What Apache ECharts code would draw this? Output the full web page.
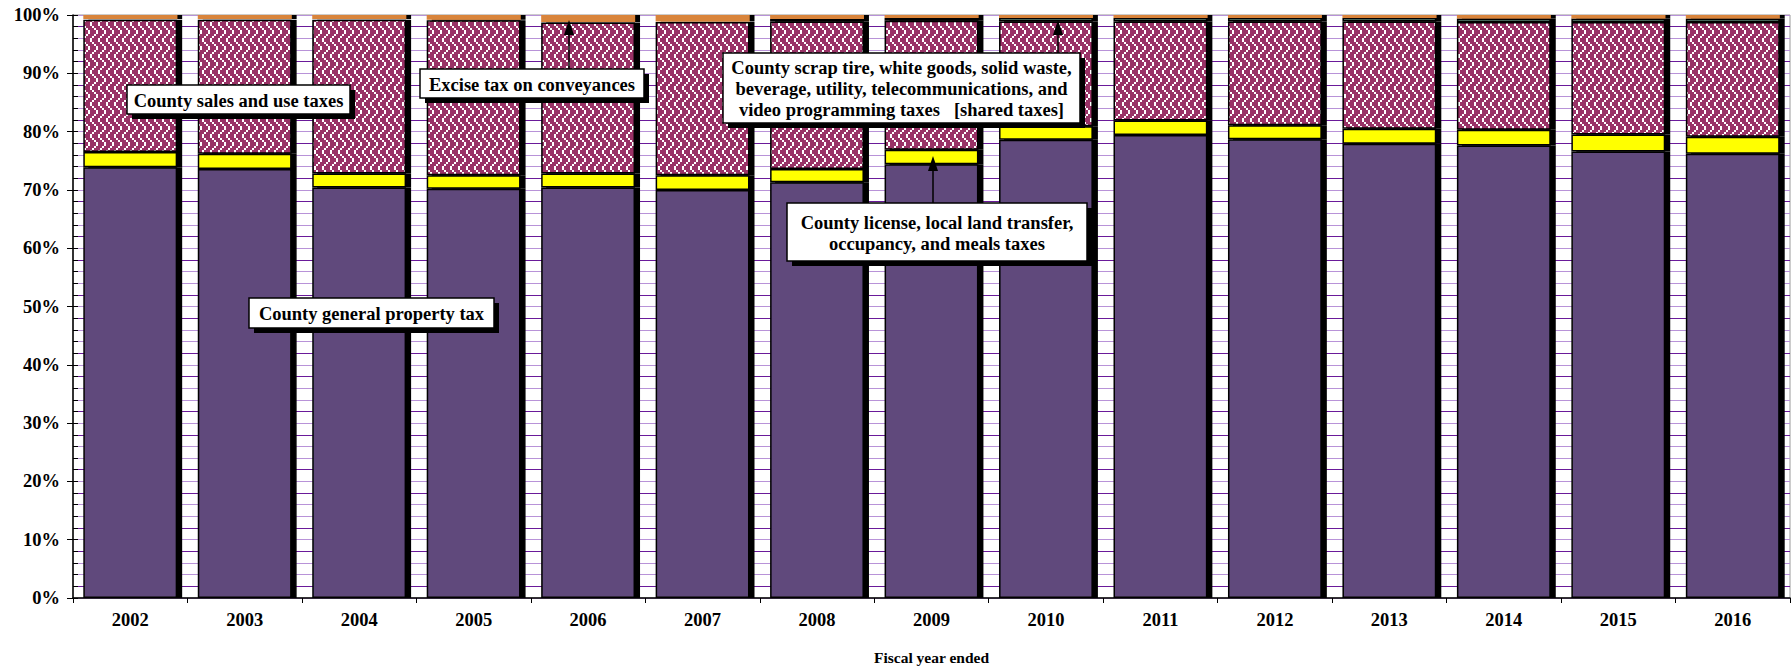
<!DOCTYPE html>
<html>
<head>
<meta charset="utf-8">
<script src="https://cdn.jsdelivr.net/npm/echarts@6/dist/echarts.min.js"></script>
<style>
html,body{margin:0;padding:0;background:#fff;}
#chart{width:1791px;height:670px;}
</style>
</head>
<body>
<div id="chart"></div>
<script>
const years = ['2002','2003','2004','2005','2006','2007','2008','2009','2010','2011','2012','2013','2014','2015','2016'];
const propertyTax = [73.9, 73.6, 70.4, 70.2, 70.4, 70.0, 71.3, 74.4, 78.6, 79.4, 78.7, 77.9, 77.6, 76.6, 76.2];
const licenseTaxes = [2.6, 2.6, 2.4, 2.3, 2.4, 2.5, 2.3, 2.5, 2.3, 2.5, 2.4, 2.6, 2.7, 2.9, 2.9];
const salesUseTaxes = [22.7, 23.0, 26.4, 26.6, 25.9, 26.3, 25.3, 22.1, 18.0, 17.0, 17.8, 18.4, 18.5, 19.3, 19.7];
const sharedTaxes = [0.1, 0.1, 0.1, 0.1, 0.1, 0.1, 0.4, 0.5, 0.6, 0.6, 0.6, 0.6, 0.6, 0.6, 0.6];
const exciseTax = [0.7, 0.7, 0.7, 0.8, 1.2, 1.1, 0.7, 0.5, 0.5, 0.5, 0.5, 0.5, 0.6, 0.6, 0.6];

const FONT = '"Liberation Serif", "Times New Roman", serif';

// zigzag hatch pattern (maroon with white zigzag dots)
function makePattern() {
  const cell = 2, n = 8;
  const c = document.createElement('canvas');
  c.width = n * cell; c.height = n * cell;
  const ctx = c.getContext('2d');
  ctx.fillStyle = '#993366';
  ctx.fillRect(0, 0, c.width, c.height);
  ctx.fillStyle = '#ffffff';
  for (let y = 0; y < n; y++) {
    const off = y < 4 ? y : 7 - y;
    for (let x = 0; x < n; x++) {
      const k = (x + off) % 4;
      if (k === 0 || (k === 2 && (x + y) % 4 === 0)) ctx.fillRect(x * cell, y * cell, cell, cell);
    }
  }
  return c;
}
const hatch = makePattern();

const shadowStyle = { borderColor: '#000', borderWidth: 1.5, shadowColor: '#000', shadowBlur: 0, shadowOffsetX: 5, shadowOffsetY: 0 };

function seg(name, data, color, extra) {
  return {
    name: name, type: 'bar', stack: 'total', data: data,
    barCategoryGap: '18%',
    itemStyle: Object.assign({ color: color }, shadowStyle, extra || {}),
    emphasis: { disabled: true }
  };
}

function box(x, y, w, h, text) {
  return [
    { type: 'rect', z: 100, shape: { x: x + 5, y: y + 5, width: w, height: h }, style: { fill: '#000' } },
    { type: 'rect', z: 101, shape: { x: x, y: y, width: w, height: h }, style: { fill: '#fff', stroke: '#000', lineWidth: 1.5 } },
    { type: 'text', z: 102, style: { text: text, x: x + w / 2, y: y + h / 2 + 1, textAlign: 'center', textVerticalAlign: 'middle', font: 'bold 18.5px ' + FONT, fill: '#000', lineHeight: 21 } }
  ];
}
function arrow(x, yFrom, yTip) {
  return [
    { type: 'line', z: 100, shape: { x1: x, y1: yFrom, x2: x, y2: yTip + 10 }, style: { stroke: '#000', lineWidth: 1.5 } },
    { type: 'polygon', z: 100, shape: { points: [[x, yTip], [x - 5, yTip + 15], [x + 5, yTip + 15]] }, style: { fill: '#000' } }
  ];
}

const chart = echarts.init(document.getElementById('chart'), null, { renderer: 'svg' });
chart.setOption({
  animation: false,
  backgroundColor: '#fff',
  grid: { left: 73, right: 1, top: 15, bottom: 67, show: true, borderColor: '#999', borderWidth: 1, backgroundColor: 'transparent' },
  xAxis: {
    type: 'category', data: years,
    axisLine: { lineStyle: { color: '#000', width: 1.5 } },
    axisTick: { show: true, length: 5, lineStyle: { color: '#000' } },
    axisLabel: { color: '#000', fontFamily: FONT, fontWeight: 'bold', fontSize: 18.5, margin: 12 },
    name: 'Fiscal year ended', nameLocation: 'middle', nameGap: 51,
    nameTextStyle: { color: '#000', fontFamily: FONT, fontWeight: 'bold', fontSize: 15.5 }
  },
  yAxis: [
    {
      type: 'value', min: 0, max: 100, interval: 10, position: 'left',
      axisLine: { show: true, lineStyle: { color: '#000', width: 1.5 } },
      axisTick: { show: true, length: 6, lineStyle: { color: '#000' } },
      axisLabel: { formatter: '{value}%', color: '#000', fontFamily: FONT, fontWeight: 'bold', fontSize: 18.5, margin: 13 },
      splitLine: { show: false }
    },
    {
      type: 'value', min: 0, max: 100, interval: 2, position: 'left', offset: 0,
      axisLine: { show: false },
      axisTick: { show: true, inside: true, length: 5, lineStyle: { color: '#000' } },
      axisLabel: { show: false },
      splitLine: { show: true, lineStyle: { color: ['#b892d8', '#6a1a9a', '#b892d8', '#b892d8', '#6a1a9a'], width: 1.2 } }
    }
  ],
  series: [
    seg('County general property tax', propertyTax, '#604a7b'),
    seg('County license, local land transfer, occupancy, and meals taxes', licenseTaxes, '#ffff00'),
    seg('County sales and use taxes', salesUseTaxes, { image: hatch, repeat: 'repeat' }),
    seg('Shared taxes', sharedTaxes, '#8fcab4'),
    seg('Excise tax on conveyances', exciseTax, '#d9843b', { borderWidth: 0 })
  ],
  graphic: [].concat(
    box(127, 85, 223, 29, 'County sales and use taxes'),
    arrow(569, 69, 20),
    box(420, 69, 224, 29, 'Excise tax on conveyances'),
    arrow(1058, 53, 20),
    box(723, 53, 357, 70, 'County scrap tire, white goods, solid waste,\nbeverage, utility, telecommunications, and\nvideo programming taxes   [shared taxes]'),
    arrow(933, 203, 156),
    box(787, 203, 300, 58, 'County license, local land transfer,\noccupancy, and meals taxes'),
    box(249, 298, 245, 30, 'County general property tax')
  )
});
</script>
</body>
</html>
